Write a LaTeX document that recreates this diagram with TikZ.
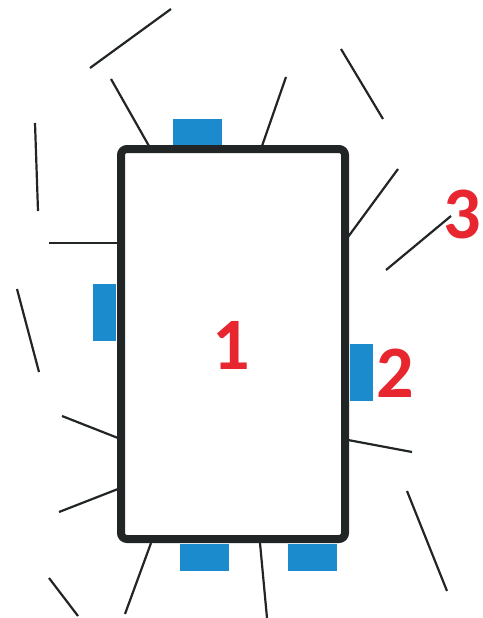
\documentclass[tikz,border=0pt]{standalone}
\usepackage{fontspec}
\setmainfont{Carlito}
\usetikzlibrary{positioning}

\definecolor{framegray}{HTML}{212526}
\definecolor{padblue}{HTML}{1B8BCE}
\definecolor{numred}{HTML}{E8262F}

\begin{document}
\begin{tikzpicture}[
  x=1pt, y=-1pt,
  frame/.style={draw=framegray, line width=8pt, rounded corners=6pt,
                minimum width=224pt, minimum height=390pt, inner sep=0pt},
  pad/.style={fill=padblue, inner sep=0pt},
  ray/.style={draw=framegray, line width=2.2pt},
  num/.style={text=numred, inner sep=0pt, font=\fontsize{74}{74}\selectfont\bfseries},
]
  \useasboundingbox (0,0) rectangle (482,618);

  % pads round the board
  \node[pad, minimum width=49pt, minimum height=26pt] (padtop) at (197.5,132) {};
  \node[pad, minimum width=23pt, minimum height=57pt] (padleft) at (104.5,312.5) {};
  \node[pad, minimum width=23pt, minimum height=57pt] (padright) at (361.5,372.5) {};
  \node[pad, minimum width=49pt, minimum height=27pt] (padbotA) at (204.5,557.5) {};
  \node[pad, minimum width=49pt, minimum height=27pt] (padbotB) at (312.5,557.5) {};

  % loose strokes
  \draw[ray] (90,68) -- (171,9);
  \draw[ray] (111,79) -- (149,146);
  \draw[ray] (262,146) -- (286,77);
  \draw[ray] (341,49) -- (383,119);
  \draw[ray] (35,123) -- (38,211);
  \draw[ray] (49,243) -- (118,243);
  \draw[ray] (348,237) -- (398,169);
  \draw[ray] (386,270) -- (451,216);
  \draw[ray] (17,289) -- (39,372);
  \draw[ray] (62,416) -- (118,438);
  \draw[ray] (59,512) -- (118,489);
  \draw[ray] (348,440) -- (412,452);
  \draw[ray] (407,491) -- (447,591);
  \draw[ray] (49,578) -- (78,616);
  \draw[ray] (125,614) -- (151,543);
  \draw[ray] (260,543) -- (267,618);

  % the board
  \node[frame] (board) at (233,344) {};

  \node[num] (one) at (231.5,345) {1};
  \node[num] (two) at (395.5,373) {2};
  \node[num] (three) at (462,214.5) {3};
\end{tikzpicture}
\end{document}
